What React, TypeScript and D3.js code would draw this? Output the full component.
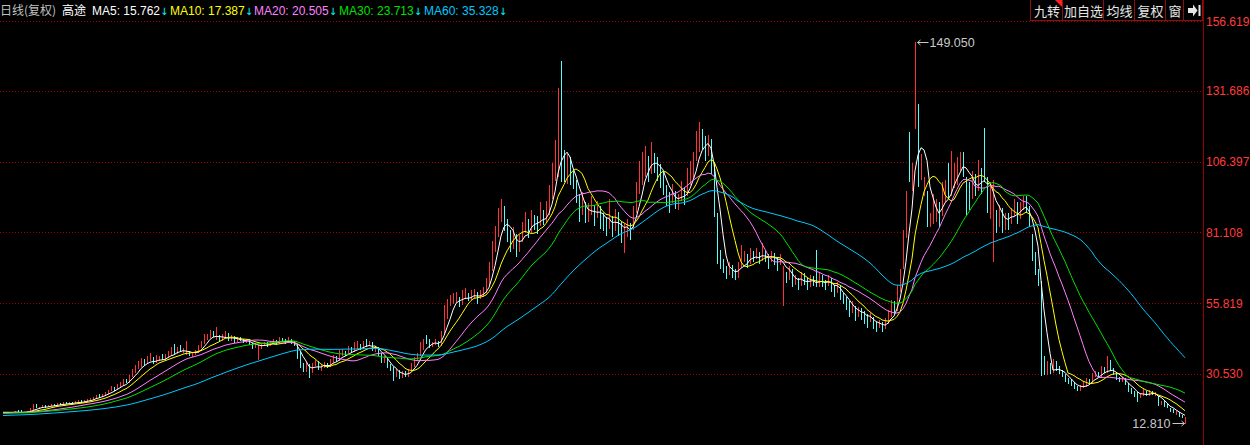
import React from 'react';
import * as d3 from 'd3';

// closes before the first visible candle (used only for the moving averages)
const preCloses: number[] = [
  14.2, 14.5, 14.1, 14.8, 15.0, 14.6, 14.3, 14.9, 15.2, 14.8,
  15.1, 14.7, 14.4, 14.9, 15.3, 15.0, 14.6, 15.2, 15.5, 15.1,
  14.8, 15.3, 15.6, 15.2, 15.0, 15.4, 15.8, 15.5, 15.1, 15.6,
  16.0, 15.7, 15.3, 15.8, 16.1, 15.9, 16.3, 16.0, 15.7, 16.2,
  16.5, 16.2, 16.0, 16.4, 16.7, 16.3, 16.6, 16.9, 16.5, 16.8,
  16.6, 16.9, 17.1, 16.7, 16.8, 17.0, 16.6, 16.9, 16.7,
];

// daily candles: [open, high, low, close]
const candles: number[][] = [
  [16.7,17.0,16.5,16.8],[16.8,17.1,16.6,16.9],[16.9,17.0,16.5,16.7],[16.7,17.1,16.6,16.9],[16.9,17.2,16.7,17.0],
  [17.3,17.7,16.6,16.8],[17.0,17.6,16.5,16.6],[16.6,17.1,16.5,16.9],[16.9,17.4,16.8,17.2],[17.2,18.2,17.0,17.9],
  [17.9,19.8,17.7,18.9],[19.0,19.7,18.2,18.3],[18.3,18.9,18.0,18.6],[18.6,19.3,18.4,19.0],[19.0,19.4,18.5,18.7],
  [18.7,19.5,18.6,19.2],[19.2,19.8,19.0,19.5],[19.6,19.9,19.1,19.3],[19.3,20.2,19.2,19.8],[19.9,20.3,19.4,19.6],
  [19.6,20.4,19.5,20.1],[20.2,20.5,19.7,19.9],[19.9,20.6,19.8,20.3],[20.4,20.7,19.8,20.0],[20.0,20.8,19.9,20.5],
  [20.5,21.2,20.3,20.8],[20.9,21.1,20.2,20.4],[20.4,21.3,20.3,20.9],[20.9,21.6,20.7,21.3],[21.3,21.9,21.0,21.5],
  [21.5,22.4,21.3,22.0],[22.0,23.2,21.9,22.8],[22.9,23.4,22.1,22.4],[22.4,23.5,22.2,23.1],[23.1,24.0,22.9,23.6],
  [23.6,24.9,23.4,24.5],[24.5,26.2,24.3,25.3],[25.4,26.0,24.6,25.0],[25.0,26.9,24.8,26.4],[26.4,27.5,26.0,26.8],
  [26.8,28.6,26.5,28.0],[28.2,28.9,27.2,27.5],[27.6,30.2,27.4,29.6],[29.7,32.3,29.5,31.5],[31.6,33.9,31.0,32.8],
  [32.9,35.0,32.4,33.6],[33.7,36.1,33.2,34.9],[35.1,36.0,33.9,34.2],[34.3,36.8,34.0,35.3],[35.4,38.2,35.0,35.8],
  [35.9,36.6,34.2,34.6],[34.6,37.2,34.4,35.5],[35.6,37.0,35.1,36.2],[36.4,37.8,35.4,35.7],[35.8,37.5,35.5,36.9],
  [37.0,38.6,36.5,37.6],[37.7,40.1,37.3,38.8],[39.0,41.2,37.6,37.9],[38.0,40.3,37.7,39.4],[39.5,40.8,38.4,38.7],
  [38.7,40.0,38.2,39.5],[37.6,42.3,37.2,38.0],[38.1,38.9,36.8,37.2],[37.2,38.4,36.5,37.8],[37.8,39.2,37.3,38.4],
  [38.5,40.8,38.1,40.2],[40.3,42.2,39.8,41.5],[41.6,44.8,41.2,43.1],[43.3,45.0,42.6,44.2],[44.4,46.4,43.5,45.5],
  [45.6,46.0,43.6,44.0],[42.9,47.3,42.8,43.2],[43.4,44.3,42.0,42.5],[42.5,44.7,42.2,43.8],[43.9,45.9,43.4,44.6],
  [44.7,45.2,42.5,42.9],[42.9,44.6,42.4,43.4],[43.5,44.0,41.6,42.1],[42.1,43.8,41.8,43.0],[43.1,43.9,42.3,42.8],
  [42.8,43.2,41.5,41.9],[41.9,43.0,41.6,42.5],[42.6,42.9,40.8,41.2],[41.2,41.7,39.5,40.3],[40.3,41.5,39.8,40.8],
  [38.5,41.0,35.5,39.9],[39.9,41.4,39.5,41.0],[41.0,42.1,40.6,41.6],[41.7,42.0,40.2,40.7],[40.7,42.3,40.5,41.8],
  [41.8,43.0,41.3,42.4],[42.4,42.8,41.0,41.5],[41.6,43.6,41.4,42.9],[43.0,43.5,41.8,42.2],[42.2,42.9,41.2,41.7],
  [41.7,43.8,41.5,42.6],[42.7,43.2,41.4,41.8],[41.8,42.3,40.5,40.9],[40.9,41.2,36.0,36.5],[36.8,38.5,32.5,33.2],
  [33.2,34.3,31.2,31.8],[31.5,34.8,31.2,33.5],[33.5,34.0,29.2,31.0],[31.0,34.5,30.8,33.9],[33.9,35.6,33.3,34.6],
  [34.6,35.0,32.0,32.5],[32.5,33.8,31.5,33.1],[33.1,34.8,32.7,34.0],[34.0,34.6,32.8,33.4],[33.4,35.8,33.1,35.0],
  [35.0,37.3,34.6,36.2],[36.3,36.9,34.8,35.4],[35.5,39.0,35.2,37.1],[37.2,39.6,36.8,38.3],[38.4,38.9,36.9,37.5],
  [37.6,40.5,37.2,39.0],[39.1,40.2,38.0,38.6],[38.6,41.8,38.3,39.8],[39.8,42.5,39.5,40.5],[40.6,41.4,39.0,39.6],
  [39.6,42.2,39.3,41.2],[41.3,43.0,40.2,40.8],[40.8,42.4,40.5,41.5],[41.5,41.9,38.7,39.2],[39.2,40.6,38.5,40.0],
  [40.0,40.3,36.8,37.4],[37.5,38.0,34.6,35.2],[35.2,37.0,34.3,36.0],[36.0,36.4,32.5,33.1],[33.1,34.0,31.6,32.5],
  [32.5,33.0,28.0,30.4],[29.8,32.4,29.5,31.2],[31.2,31.8,28.8,29.5],[29.5,31.6,29.2,30.8],[30.8,31.5,29.4,29.9],
  [29.9,32.3,29.6,31.6],[31.6,34.6,31.3,33.4],[33.4,36.6,33.0,35.8],[35.8,38.2,35.3,37.2],[37.2,42.0,36.8,39.5],
  [39.6,43.0,39.2,41.8],[43.4,44.4,41.3,42.6],[42.6,43.1,40.0,40.5],[40.5,42.0,40.1,41.3],[41.3,43.2,40.8,42.0],
  [42.0,42.5,40.2,40.8],[40.9,46.0,40.6,45.5],[45.6,55.3,45.0,51.5],[51.6,57.5,50.2,56.0],[56.1,58.8,54.8,56.7],
  [56.7,59.5,55.6,57.2],[57.2,59.8,56.0,57.5],[57.6,58.2,54.6,55.8],[55.8,60.6,55.2,58.2],[58.3,61.2,57.4,59.0],
  [59.1,59.6,56.5,57.6],[57.6,60.4,57.0,58.4],[58.5,61.0,57.8,59.3],[59.3,59.8,55.4,57.9],[57.9,60.6,57.3,58.8],
  [58.8,61.5,58.2,60.2],[60.3,64.8,59.6,62.5],[62.6,70.5,62.0,68.0],[68.2,78.0,67.5,75.5],[75.8,83.5,74.2,80.1],
  [80.3,90.0,79.5,86.2],[86.5,93.0,84.8,89.5],[89.0,90.5,81.5,84.0],[84.0,86.0,77.8,80.5],[80.5,82.0,74.0,76.2],
  [76.0,83.0,75.2,79.0],[79.2,80.5,72.5,74.8],[74.8,80.2,74.0,78.5],[78.6,85.0,77.8,82.3],[82.4,88.5,81.0,84.6],
  [84.6,86.0,79.0,81.5],[81.6,89.0,81.0,86.2],[86.3,87.5,82.0,85.0],[85.0,87.0,80.5,84.3],[84.3,92.0,83.5,87.5],
  [87.6,89.0,83.8,85.5],[85.5,92.5,85.0,88.0],[88.2,98.0,87.5,94.5],[94.5,106.0,93.0,100.5],[100.8,114.0,99.5,110.0],
  [102.0,132.7,101.0,118.5],[118.0,142.4,99.0,108.0],[108.5,110.5,99.0,105.5],[104.0,109.0,98.5,107.0],[107.0,108.0,98.0,101.5],
  [101.5,103.0,96.5,99.0],[99.0,100.0,91.5,93.5],[93.5,95.0,85.0,88.0],[88.2,95.5,87.5,91.0],[91.0,92.0,84.5,86.5],
  [86.6,91.5,85.0,88.2],[88.3,94.0,87.5,90.5],[90.5,91.0,83.5,87.0],[87.0,92.5,86.2,89.5],[89.5,90.5,82.5,86.8],
  [86.8,88.0,81.5,85.0],[85.0,86.5,80.0,83.5],[83.5,93.0,82.5,86.0],[86.0,87.0,79.5,82.0],[82.2,89.5,81.5,87.5],
  [87.5,88.5,80.0,84.0],[84.0,85.0,77.5,80.5],[76.5,84.0,73.7,80.5],[80.6,86.0,79.5,83.0],[83.0,84.5,78.5,82.5],
  [82.6,90.5,82.0,88.5],[88.6,99.0,88.0,96.0],[96.2,106.5,95.0,101.5],[101.6,110.0,98.0,104.0],[104.2,112.0,101.0,107.5],
  [107.5,108.5,99.0,103.0],[103.2,113.5,102.0,108.5],[108.5,109.5,102.5,106.0],[106.0,108.0,99.5,104.5],[104.5,105.5,97.0,102.0],
  [102.0,103.0,94.5,96.5],[96.5,98.0,90.5,94.0],[94.0,95.5,88.0,92.5],[92.6,98.5,91.5,95.0],[95.0,96.0,89.5,91.5],
  [91.6,95.0,89.0,93.0],[93.2,99.5,92.5,96.0],[96.0,97.0,91.0,94.5],[94.6,104.0,94.0,99.0],[99.2,106.5,98.0,101.5],
  [101.6,110.0,100.5,107.5],[107.6,117.5,106.5,112.0],[112.2,120.7,110.0,116.5],[116.5,118.0,110.5,114.0],[114.0,115.5,106.5,109.5],
  [109.6,116.0,108.5,112.5],[112.5,114.5,102.0,104.0],[104.0,106.0,86.5,88.0],[86.0,88.0,70.0,72.5],[72.5,75.0,68.0,70.0],
  [70.0,71.5,66.5,68.0],[68.0,69.0,64.5,66.5],[66.6,70.5,66.0,68.5],[68.5,69.5,65.0,67.0],[67.0,68.0,64.0,65.5],
  [65.6,70.5,65.0,69.0],[69.1,76.5,68.5,71.5],[71.6,74.5,70.5,72.8],[72.8,73.5,68.5,70.5],[70.6,75.5,70.0,73.0],
  [73.0,74.5,70.5,72.0],[72.0,75.5,71.5,73.5],[73.5,74.0,70.0,71.5],[71.6,77.5,71.0,74.0],[74.0,75.0,70.5,72.5],
  [72.5,73.5,68.0,71.0],[71.1,74.5,70.5,73.0],[73.0,73.8,69.5,71.5],[71.5,72.5,67.5,70.0],[70.1,73.5,69.5,72.0],
  [63.5,69.0,55.0,66.0],[66.0,67.0,63.0,64.5],[64.6,69.0,64.0,67.5],[67.5,68.0,61.5,63.0],[63.1,66.0,62.5,64.0],
  [64.0,65.0,60.5,62.5],[62.6,67.0,62.0,65.5],[65.5,66.5,62.5,64.0],[64.0,65.0,60.5,62.0],[62.1,66.0,61.5,64.5],
  [64.5,65.5,62.0,63.5],[64.0,75.0,61.5,62.0],[62.1,66.5,61.5,65.0],[65.0,66.0,61.5,63.0],[63.0,64.0,60.5,62.5],
  [62.6,66.0,62.0,64.5],[64.5,65.0,60.0,61.5],[61.5,62.5,58.0,60.0],[60.1,63.5,59.5,62.0],[62.0,62.5,57.0,58.5],
  [58.5,59.5,55.5,57.0],[57.0,58.0,53.5,55.5],[55.5,56.5,51.0,53.0],[53.1,56.5,52.5,54.5],[54.5,55.0,49.5,51.5],
  [51.6,54.5,51.0,53.0],[53.0,54.0,50.0,52.0],[52.0,53.0,48.5,51.0],[51.0,52.0,47.0,49.5],[49.6,52.5,49.0,50.5],
  [50.5,51.0,46.5,48.0],[48.0,49.0,45.5,47.5],[47.6,50.0,47.0,48.5],[48.5,49.0,45.5,47.0],[47.1,50.5,46.5,49.0],
  [49.1,53.5,48.5,51.5],[51.6,57.0,51.0,55.0],[55.0,56.5,52.0,53.5],[53.6,62.5,53.0,60.5],[60.6,68.0,60.0,66.0],
  [70,82,68,80],[80,96,79,94],[116,117,99,103],[98,106,96,105],[119,149.05,118,134],
  [126,127,97.5,108],[102,109,100,107],[96,101,94,99],[95,96,83,86],[84,88,83,87],
  [86,95,84,89],[89,93,85,90],[91,92,83,88],[88,99,87,94],[94,100,92,97.5],
  [97,106,93,95],[95,110.3,94,99],[99,106,97,103.5],[104,108,98,106],[106,110,103,108.5],
  [108.5,110,101,106],[99,101,87,97],[96,99,89,95.5],[94,103,93,99],[100,102,94,96],
  [97,107.1,96,102],[103,104,95,101.5],[104,118.5,99,99.5],[99.5,101,88,94],[94,99,86,96.5],
  [78,100,70.4,88],[88,89,81,84.5],[84.5,91,83,90],[89,90,81,83],[83,88,82,86],
  [86.5,88,82,85.5],[85.5,90,84,88.5],[88.5,93,87,91],[91,92,84,86.5],[86.5,92,86,90],
  [90,94,89,91.5],[93,94,88,92],[90,90.5,83,84],[80,80.5,71,73],[72,74,66,68],
  [67,68,62,64],[63.6,63.6,29.8,31],[32.5,36.8,30,31],[31,35,30.2,32.5],[33.5,34.5,30.5,31.5],
  [31.5,36,31,33.5],[34,35,31.5,32],[32.5,33.5,30.5,31.5],[31.5,32,29.5,30],[30,30.5,27.8,28.5],
  [28.5,29.2,26.8,27.5],[28,28.6,26.2,27],[27,27.5,25,25.5],[25.5,26.2,24.5,25],[25,26.5,24.6,26],
  [26,27.5,25.5,26.5],[26.5,29,26,28],[28.2,28.8,26.8,27.5],[27.5,31,27.2,30],[30,31.5,29.5,30.5],
  [30.8,31.2,29,29.5],[29.5,33.5,29.2,32.5],[32.6,33.2,30.8,31.5],[31.5,37,31,33],[33.2,35.5,31.5,32],
  [32,32.5,30,30.5],[30.5,31,28.5,29],[29,29.5,27.5,28],[27.8,29.5,27.5,28.5],[28.5,29,26.5,27],
  [27,27.4,24.2,24.5],[24.6,25.5,23.5,24],[24,24.5,22.2,23.5],[23.5,24,20.6,22.5],[22.5,23.5,22,23],
  [23,25,22.8,24],[24,24.5,22.5,23],[23,24.8,22.8,24],[24,24.5,23,23.5],[23.2,24.2,22.6,23.5],
  [22,22.5,19.2,19.6],[19.8,21,19.5,20.5],[20.5,21,18.6,19],[19,19.8,18.2,18.5],[18.2,18.5,17,17.5],
  [17.5,18,16.6,17],[16.2,17.2,16,16.5],[16.5,16.8,15.2,15.5],[15.5,16,14.8,15.3],[13.2,15.2,12.81,14.5],
];

const priceTicks = [156.619, 131.686, 106.397, 81.108, 55.819, 30.53];
const maPeriods = [5, 10, 20, 30, 60];
const maColors = ['#ffffff', '#ffff00', '#ff80ff', '#00e000', '#00c8ff'];
const legendLabels = ['MA5: 15.762', 'MA10: 17.387', 'MA20: 20.505', 'MA30: 23.713', 'MA60: 35.328'];
const legendX = [92, 170, 254, 339, 424];
const buttons = ['九转', '加自选', '均线', '复权', '窗'];
const buttonEdges = [1030, 1062, 1103, 1134, 1165, 1183, 1202];
const maxLabel = '149.050';
const minLabel = '12.810';

const UP = '#ff3333';
const DOWN = '#54fcfc';
const NUM_FONT = '"Liberation Sans", Arial, sans-serif';
const CJK_FONT = '"Noto Sans CJK SC", "Liberation Sans", sans-serif';

export default function App() {
  const W = 1250;
  const H = 445;
  const axisX = 1203;
  const x = d3.scaleLinear().domain([0, candles.length - 1]).range([3, 1185]);
  const y = d3.scaleLinear().domain([30.53, 156.619]).range([374, 21.2]);

  const all = [...preCloses, ...candles.map((c) => c[3])];
  const P = preCloses.length;
  const ma = (n: number) =>
    candles.map((_, i) => {
      const w = all.slice(P + i - n + 1, P + i + 1);
      return d3.mean(w) as number;
    });
  const line = d3
    .line<number>()
    .x((_, i) => x(i))
    .y((v) => y(v));

  let hiIdx = 0;
  let loIdx = 0;
  candles.forEach((c, i) => {
    if (c[1] > candles[hiIdx][1]) hiIdx = i;
    if (c[2] < candles[loIdx][2]) loIdx = i;
  });
  const hx = Math.round(x(hiIdx)) + 0.5;
  const hy = Math.round(y(candles[hiIdx][1])) + 0.5;
  const lx = Math.round(x(loIdx)) + 0.5;
  const ly = Math.round(y(candles[loIdx][2])) - 0.5;

  return (
    <div style={{ position: 'absolute', left: 0, top: 0 }}>
      <svg width={W} height={H} style={{ display: 'block', background: '#000' }}>
        <rect x={0} y={0} width={W} height={H} fill="#000" />
        {/* grid */}
        {priceTicks.map((t) => (
          <line
            key={'g' + t}
            x1={0}
            x2={axisX}
            y1={Math.round(y(t)) + 0.5}
            y2={Math.round(y(t)) + 0.5}
            stroke="#a00000"
            strokeDasharray="1 2"
          />
        ))}
        {/* right axis */}
        <line x1={axisX + 0.5} x2={axisX + 0.5} y1={0} y2={H} stroke="#900000" />
        {priceTicks.map((t) => (
          <text
            key={'t' + t}
            x={axisX + 3}
            y={y(t)}
            dy="0.36em"
            fill="#ff3c3c"
            fontSize={12}
            fontFamily={NUM_FONT}
          >
            {t.toFixed(3)}
          </text>
        ))}
        {/* candles */}
        {candles.map((c, i) => {
          const cx = Math.round(x(i));
          const top = Math.round(y(c[1]));
          const bot = Math.round(y(c[2]));
          return (
            <rect
              key={'c' + i}
              x={cx}
              y={top}
              width={1}
              height={Math.max(1, bot - top)}
              fill={c[3] >= c[0] ? UP : DOWN}
            />
          );
        })}
        {/* moving averages */}
        {maPeriods.map((n, k) => (
          <path key={'m' + n} d={line(ma(n)) || ''} fill="none" stroke={maColors[k]} strokeWidth={1} />
        ))}
        {/* max / min annotations */}
        <g stroke="#c8c8c8" fill="none">
          <line x1={hx + 2} x2={hx + 13} y1={hy} y2={hy} />
          <polyline points={`${hx + 5},${hy - 2.5} ${hx + 2},${hy} ${hx + 5},${hy + 2.5}`} />
          <line x1={lx - 13} x2={lx - 1} y1={ly} y2={ly} />
          <polyline points={`${lx - 4},${ly - 2.5} ${lx - 1},${ly} ${lx - 4},${ly + 2.5}`} />
        </g>
        <text x={hx + 14} y={hy + 4.5} fill="#c8c8c8" fontSize={12.5} fontFamily={NUM_FONT}>
          {maxLabel}
        </text>
        <text x={lx - 15} y={ly + 4.5} textAnchor="end" fill="#c8c8c8" fontSize={12.5} fontFamily={NUM_FONT}>
          {minLabel}
        </text>
        {/* header */}
        <text x={0} y={15} fill="#c0c0c0" fontSize={12} fontFamily={CJK_FONT}>
          日线(复权)
        </text>
        <text x={62} y={15} fill="#ffffff" fontSize={12} fontFamily={CJK_FONT}>
          高途
        </text>
        {legendLabels.map((l, k) => (
          <text key={'l' + k} x={legendX[k]} y={15} fill={maColors[k]} fontSize={12} fontFamily={NUM_FONT}>
            {l}
            <tspan fill="#00ffff" fontFamily='"DejaVu Sans", sans-serif' fontSize={10}>
              ↓
            </tspan>
          </text>
        ))}
        {/* buttons */}
        <rect x={buttonEdges[0] + 0.5} y={-1} width={buttonEdges[6] - buttonEdges[0]} height={21.5} fill="#000" stroke="#8a1010" />
        {buttonEdges.slice(1, 6).map((bx) => (
          <line key={'b' + bx} x1={bx + 0.5} x2={bx + 0.5} y1={0} y2={20} stroke="#8a1010" />
        ))}
        {buttons.map((b, k) => (
          <text
            key={'bt' + k}
            x={(buttonEdges[k] + buttonEdges[k + 1]) / 2 + 1}
            y={15.5}
            textAnchor="middle"
            fill="#e6e6e6"
            fontSize={13}
            fontFamily={CJK_FONT}
          >
            {b}
          </text>
        ))}
        <polygon points="1055,0 1062,0 1062,7" fill="#ff2020" />
        <g fill="#e6e6e6">
          <rect x={1188} y={8} width={5} height={5} />
          <polygon points="1193,4.5 1197.5,10.5 1193,16.5" />
          <rect x={1198.5} y={5} width={2} height={11} />
        </g>
      </svg>
    </div>
  );
}
